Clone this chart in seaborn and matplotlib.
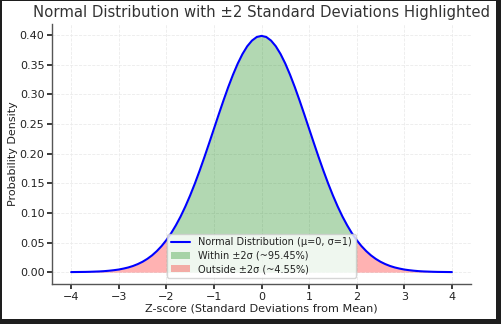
import numpy as np
import pandas as pd
import matplotlib
matplotlib.use("Agg")
import matplotlib.pyplot as plt
from matplotlib.patches import Rectangle
import seaborn as sns

# Z-scores and density values (0.1 step)
z_scores = [round(-4.0 + 0.1 * i, 1) for i in range(81)]
density = [
    0.0001, 0.0002, 0.0003, 0.0004, 0.0006, 0.0009, 0.0012, 0.0017, 0.0024, 0.0033,
    0.0044, 0.0060, 0.0079, 0.0104, 0.0136, 0.0175, 0.0224, 0.0283, 0.0355, 0.0440,
    0.0540, 0.0656, 0.0790, 0.0940, 0.1109, 0.1295, 0.1497, 0.1714, 0.1942, 0.2179,
    0.2420, 0.2661, 0.2897, 0.3123, 0.3332, 0.3521, 0.3683, 0.3814, 0.3910, 0.3970,
    0.3989,
    0.3970, 0.3910, 0.3814, 0.3683, 0.3521, 0.3332, 0.3123, 0.2897, 0.2661, 0.2420,
    0.2179, 0.1942, 0.1714, 0.1497, 0.1295, 0.1109, 0.0940, 0.0790, 0.0656, 0.0540,
    0.0440, 0.0355, 0.0283, 0.0224, 0.0175, 0.0136, 0.0104, 0.0079, 0.0060, 0.0044,
    0.0033, 0.0024, 0.0017, 0.0012, 0.0009, 0.0006, 0.0004, 0.0003, 0.0002, 0.0001,
]
lower_bound = -2
upper_bound = 2

title = "Normal Distribution with \u00b12 Standard Deviations Highlighted"
xlabel = "Z-score (Standard Deviations from Mean)"
ylabel = "Probability Density"
line_label = "Normal Distribution (\u03bc=0, \u03c3=1)"
within_label = "Within \u00b12\u03c3 (~95.45%)"
outside_label = "Outside \u00b12\u03c3 (~4.55%)"

df = pd.DataFrame({"z": z_scores, "pdf": density})

sns.set_theme(style="whitegrid", rc={
    "grid.linestyle": "--",
    "grid.color": "#ebebeb",
    "grid.linewidth": 0.6,
    "axes.edgecolor": "#555555",
    "axes.linewidth": 1.0,
    "xtick.bottom": True,
    "ytick.left": True,
    "xtick.color": "#222222",
    "ytick.color": "#222222",
    "xtick.major.size": 3.5,
    "ytick.major.size": 3.5,
    "axes.labelcolor": "#222222",
    "text.color": "#222222",
})
plt.rcParams["font.family"] = ["DejaVu Sans"]

fig = plt.figure(figsize=(5.01, 3.24), dpi=100)
fig.patch.set_facecolor("#1e1e1e")
fig.patches.append(Rectangle((2 / 501, 5 / 324), 494 / 501, 318 / 324,
                             transform=fig.transFigure, facecolor="white",
                             edgecolor="none", zorder=-10))
ax = fig.add_axes([0.104, 0.1235, 0.836, 0.8025])

sns.lineplot(data=df, x="z", y="pdf", ax=ax, color="blue", linewidth=1.5,
             label=line_label, zorder=3)

z = np.array(z_scores)
y = np.array(density)
inside = (z >= lower_bound) & (z <= upper_bound)
ax.fill_between(z, 0, y, where=inside, color="green", alpha=0.3,
                linewidth=0, label=within_label)
ax.fill_between(z, 0, y, where=(z <= lower_bound), color="red", alpha=0.3,
                linewidth=0, label=outside_label)
ax.fill_between(z, 0, y, where=(z >= upper_bound), color="red", alpha=0.3,
                linewidth=0)

ax.set_title(title, fontsize=10.75, color="#333333", pad=5)
ax.set_xlabel(xlabel, fontsize=8.1, labelpad=1.5)
ax.set_ylabel(ylabel, fontsize=8.0)
ax.yaxis.set_label_coords(-0.082, 0.5)
ax.tick_params(axis="both", labelsize=8, pad=2)
ax.set_xticks([-4, -3, -2, -1, 0, 1, 2, 3, 4])
ax.set_yticks([0.0, 0.05, 0.10, 0.15, 0.20, 0.25, 0.30, 0.35, 0.40])
ax.yaxis.set_major_formatter(matplotlib.ticker.FormatStrFormatter("%.2f"))
ax.set_xlim(-4.4, 4.4)
ax.set_ylim(-0.02, 0.419)
sns.despine(ax=ax)
ax.legend(loc="lower center", fontsize=7, frameon=True, framealpha=0.8,
          borderaxespad=0.6, handlelength=2.0, labelspacing=0.35)

fig.savefig("out.png", dpi=100, facecolor=fig.get_facecolor())
